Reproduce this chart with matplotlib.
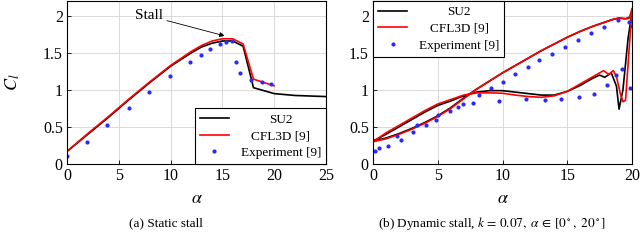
import matplotlib
matplotlib.use("Agg")
import matplotlib.pyplot as plt
from matplotlib.ticker import FuncFormatter

plt.rcParams['font.family'] = 'serif'
plt.rcParams['font.serif'] = ['Liberation Serif', 'DejaVu Serif']
plt.rcParams['mathtext.fontset'] = 'stix'

# --- (a) static stall ---
static_su2_alpha = [0, 2, 4, 6, 8, 10, 12, 13, 14, 15, 16, 17, 18, 20, 22, 25]
static_su2_cl = [0.17, 0.40, 0.63, 0.87, 1.10, 1.32, 1.50, 1.58, 1.63, 1.66, 1.66, 1.59, 1.03, 0.95, 0.925, 0.91]
static_cfl_alpha = [0, 2, 4, 6, 8, 10, 12, 13, 14, 15, 16, 17, 18, 19, 20]
static_cfl_cl = [0.17, 0.41, 0.64, 0.88, 1.11, 1.33, 1.52, 1.60, 1.66, 1.69, 1.69, 1.62, 1.145, 1.10, 1.055]
static_exp_alpha = [0, 1.93, 3.86, 5.95, 7.9, 9.9, 11.9, 12.9, 13.8, 14.8, 15.3, 15.9, 16.3, 16.7, 17.8, 18.8, 19.7]
static_exp_cl = [0.11, 0.30, 0.52, 0.75, 0.97, 1.19, 1.38, 1.47, 1.55, 1.62, 1.64, 1.66, 1.37, 1.23, 1.14, 1.10, 1.08]

# --- (b) dynamic stall, upstroke then downstroke ---
dyn_su2_alpha = [0, 1, 2, 3, 4, 5, 6, 7, 8, 9, 10, 11, 12, 13, 14, 15, 16, 17, 18, 18.5, 19, 19.5, 19.8, 20,
                 19.7, 19.3, 19.0, 18.8, 18.4, 17.9, 17.5, 17, 16, 15, 14, 13, 12, 11, 10, 9, 8, 7, 6, 5, 4, 3, 2, 1, 0]
dyn_su2_cl = [0.31, 0.35, 0.41, 0.48, 0.56, 0.65, 0.76, 0.89, 1.01, 1.12, 1.23, 1.33, 1.43, 1.53, 1.62, 1.71, 1.79, 1.86, 1.92, 1.95, 1.97, 1.96, 1.98, 2.05,
              1.7, 1.0, 0.74, 1.05, 1.23, 1.17, 1.20, 1.16, 1.06, 0.98, 0.93, 0.93, 0.95, 0.97, 0.99, 0.99, 0.97, 0.92, 0.85, 0.79, 0.70, 0.60, 0.50, 0.40, 0.31]
dyn_cfl_alpha = [0, 1, 2, 3, 4, 5, 6, 7, 8, 9, 10, 11, 12, 13, 14, 15, 16, 17, 18, 18.5, 19, 19.5, 19.8, 20,
                 19.8, 19.5, 19.3, 19.1, 18.8, 18.56, 18.2, 17.8, 17, 16, 15, 14, 13, 12, 11, 10, 9, 8, 7, 6, 5, 4, 3, 2, 1, 0]
dyn_cfl_cl = [0.30, 0.34, 0.40, 0.47, 0.55, 0.64, 0.75, 0.88, 1.01, 1.12, 1.23, 1.33, 1.43, 1.53, 1.62, 1.71, 1.79, 1.86, 1.92, 1.95, 1.97, 1.96, 1.97, 2.10,
              1.6, 0.86, 0.84, 0.95, 1.18, 1.26, 1.21, 1.26, 1.18, 1.08, 0.98, 0.92, 0.90, 0.91, 0.93, 0.955, 0.96, 0.96, 0.93, 0.87, 0.81, 0.72, 0.62, 0.52, 0.42, 0.30]
dyn_exp_alpha = [0.15, 0.46, 1.13, 1.83, 2.14, 3.11, 3.42, 4.09, 4.86, 5.05, 5.95, 6.54, 6.98, 7.76, 8.2, 9.09, 9.7,
                 10.0, 10.97, 11.8, 12.0, 12.85, 13.28, 13.8, 14.5, 14.8, 15.85, 15.9, 16.8, 17.1, 17.86, 18.1, 18.77,
                 18.94, 19.25, 19.77, 19.85, 19.98]
dyn_exp_cl = [0.18, 0.22, 0.24, 0.38, 0.33, 0.43, 0.52, 0.52, 0.595, 0.66, 0.72, 0.775, 0.81, 0.83, 0.935, 1.03, 0.855,
              1.11, 1.21, 0.88, 1.315, 1.40, 0.87, 1.49, 0.878, 1.58, 1.68, 0.90, 1.77, 0.94, 1.855, 1.06, 1.20,
              1.94, 1.28, 1.91, 1.02, 1.865]

labels = ['SU2', 'CFL3D [9]', 'Experiment [9]']
x_ticks_a = [0, 5, 10, 15, 20, 25]
x_ticks_b = [0, 5, 10, 15, 20]
y_ticks = [0, 0.5, 1, 1.5, 2]

exp_color = '#2a2aff'


def style_axes(ax, xmax, xticks):
    ax.set_xlim(0, xmax)
    ax.set_ylim(0, 2.2)
    ax.set_xticks(xticks)
    ax.set_yticks(y_ticks)
    ax.yaxis.set_major_formatter(FuncFormatter(lambda v, p: '%g' % v))
    ax.grid(True, color='#d4d4d4', lw=0.6)
    ax.set_axisbelow(True)
    ax.tick_params(direction='in', length=3, width=0.6, labelsize=11.5, pad=3)
    for s in ax.spines.values():
        s.set_linewidth(0.8)
    ax.set_xlabel(r'$\alpha$', fontsize=13, labelpad=4)


def center_legend(fig, leg):
    # pgfplots centres legend text, do the same
    r = fig.canvas.get_renderer()
    widths = [t.get_window_extent(r).width for t in leg.get_texts()]
    wmax = max(widths)
    for t, w in zip(leg.get_texts(), widths):
        t.set_x((wmax - w) / 2)


fig = plt.figure(figsize=(6.4, 2.5), dpi=100)
ax1 = fig.add_axes([67 / 640, 86 / 250, 259 / 640, 163 / 250])
ax2 = fig.add_axes([373 / 640, 86 / 250, 259 / 640, 163 / 250])

ax1.plot(static_su2_alpha, static_su2_cl, color='black', lw=1.2, label=labels[0])
ax1.plot(static_cfl_alpha, static_cfl_cl, color='red', lw=1.2, label=labels[1])
ax1.plot(static_exp_alpha, static_exp_cl, 'o', color=exp_color, ms=3, mec='none', label=labels[2])
ax1.annotate('Stall', xy=(15.2, 1.73), xytext=(7.9, 2.0), fontsize=11, ha='center', va='center',
             arrowprops=dict(arrowstyle='-|>', color='black', lw=0.6, mutation_scale=7, shrinkA=1, shrinkB=0))
style_axes(ax1, 25, x_ticks_a)
ax1.set_ylabel(r'$C_l$', fontsize=13, labelpad=15)

ax2.plot(dyn_su2_alpha, dyn_su2_cl, color='black', lw=1.2, label=labels[0])
ax2.plot(dyn_cfl_alpha, dyn_cfl_cl, color='red', lw=1.2, label=labels[1])
ax2.plot(dyn_exp_alpha, dyn_exp_cl, 'o', color=exp_color, ms=3, mec='none', label=labels[2])
style_axes(ax2, 20, x_ticks_b)

leg_kw = dict(fontsize=9.5, numpoints=1, handlelength=2.2, handletextpad=0.9, labelspacing=0.34,
              borderpad=0.38, borderaxespad=0, fancybox=False, framealpha=1, edgecolor='black')
leg1 = ax1.legend(loc='lower right', **leg_kw)
leg2 = ax2.legend(loc='upper left', **leg_kw)
for leg in (leg1, leg2):
    leg.get_frame().set_linewidth(0.8)
fig.canvas.draw()
center_legend(fig, leg1)
center_legend(fig, leg2)

fig.text(166 / 640, 1 - 223 / 250, '(a) Static stall', fontsize=9.5, ha='center', va='center')
fig.text(492 / 640, 1 - 223 / 250,
         r'(b) Dynamic stall, $k\,=\,0.07,\ \alpha\,\in\,[0^\circ,\ 20^\circ]$',
         fontsize=9.5, ha='center', va='center')

fig.savefig('out.png', dpi=100)
